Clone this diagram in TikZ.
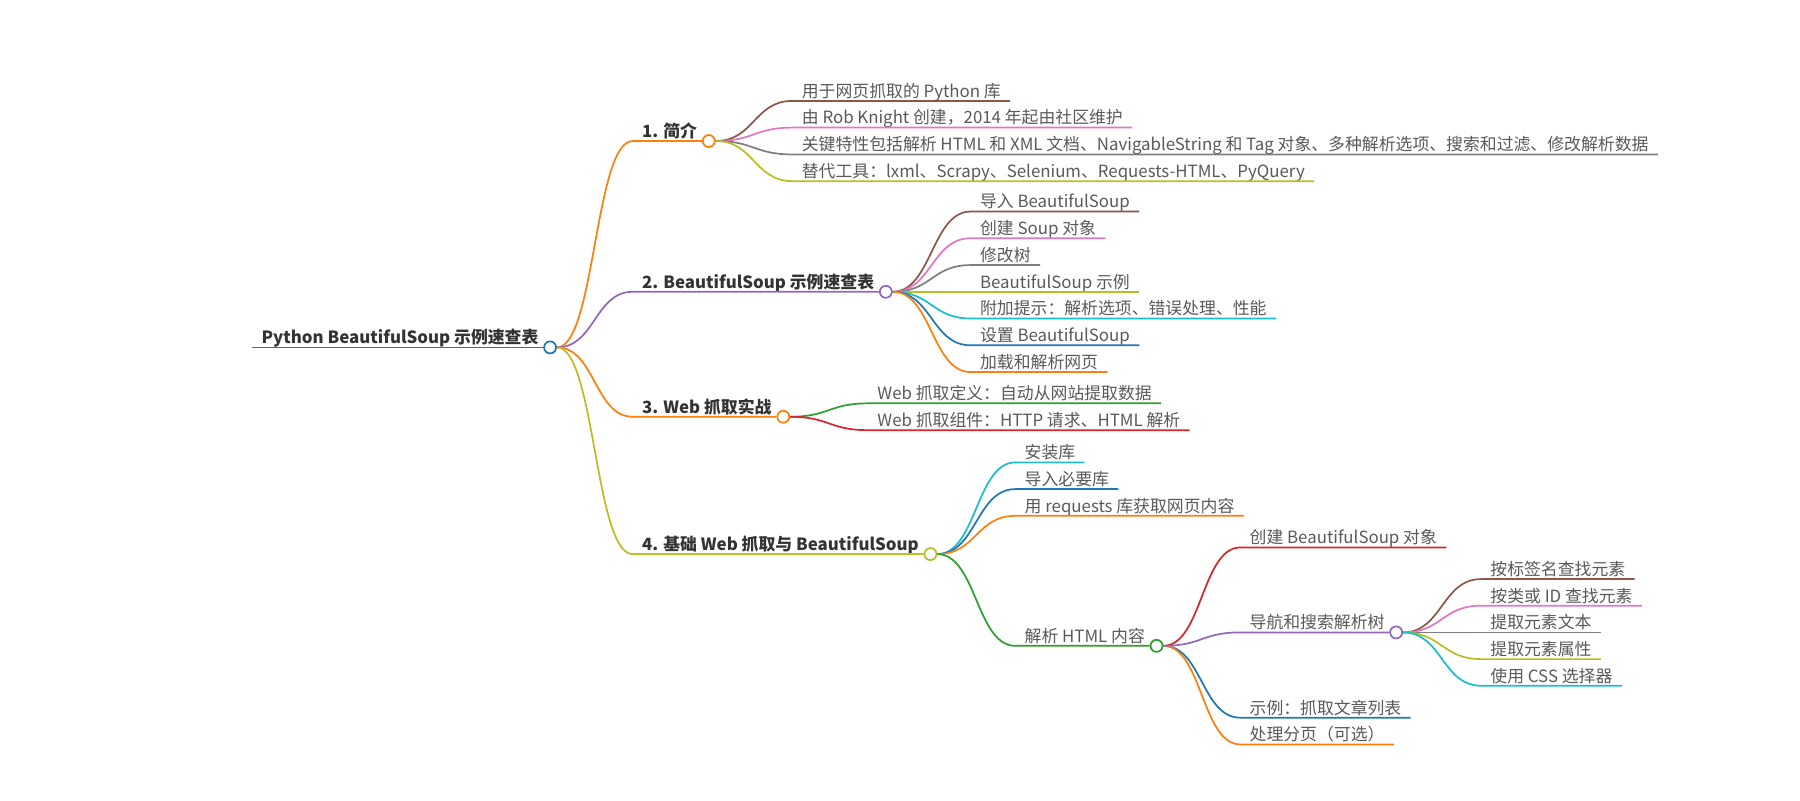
\documentclass[tikz,border=0pt]{standalone}
\usepackage{fontspec}
\setmainfont{Noto Sans CJK SC}
\usetikzlibrary{positioning}
\usetikzlibrary{calc}
\definecolor{mmblue}{HTML}{1F77B4}
\definecolor{mmorange}{HTML}{FF7F0E}
\definecolor{mmgreen}{HTML}{2CA02C}
\definecolor{mmred}{HTML}{D62728}
\definecolor{mmpurple}{HTML}{9467BD}
\definecolor{mmbrown}{HTML}{8C564B}
\definecolor{mmpink}{HTML}{E377C2}
\definecolor{mmgray}{HTML}{7F7F7F}
\definecolor{mmolive}{HTML}{BCBD22}
\definecolor{mmcyan}{HTML}{17BECF}
\definecolor{leaftext}{HTML}{595959}
\definecolor{maintext}{HTML}{333333}
\tikzset{
    topic/.style={anchor=south west, inner xsep=8pt, inner ysep=0pt, text depth=3pt,
        font=\fontsize{14.7pt}{17pt}\selectfont, text=leaftext}, % 普通节点(下划线在节点底边)
    main topic/.style={topic, font=\bfseries\fontsize{14.7pt}{17pt}\selectfont, text=maintext}, % 加粗的主题
    knot/.style={circle, draw=#1, fill=white, line width=1.5pt, minimum size=10.5pt, inner sep=0pt, anchor=west}, % 分支处的小圆圈
    branch/.style={line width=1.5pt, to path={let \p1=(\tikztostart), \p2=(\tikztotarget) in
        .. controls ({(\x1+\x2)/2},\y1) and ({(\x1+\x2)/2},\y2) .. (\tikztotarget)}} % 水平进出的曲线
}
\begin{document}
\begin{tikzpicture}[x=1pt, y=-1pt]
    \useasboundingbox (0,0) rectangle (1570,698);

    % --- 0. 根节点 ---
    \node[main topic] (root) at (220,303) {Python BeautifulSoup 示例速查表};
    \node[knot=mmblue] (kr) at ([xshift=-4pt]root.south east) {};
    \draw[mmblue, line width=1.5pt] (root.south west) -- (kr.west);

    % --- 1. 四个主分支 ---
    \foreach \dy / \txt / \col / \nm in {
        -180/{1. 简介}/mmorange/n1,
        -48.5/{2. BeautifulSoup 示例速查表}/mmpurple/n2,
        60.5/{3. Web 抓取实战}/mmorange/n3,
        180.3/{4. 基础 Web 抓取与 BeautifulSoup}/mmolive/n4} {
        \node[main topic] (\nm) at ($(kr.center)+(72,\dy)$) {\txt};
        \node[knot=\col] (k\nm) at ([xshift=-4pt]\nm.south east) {};
        \draw[branch, \col] (kr.east) to (\nm.south west) -- (k\nm.west);
    }

    % --- 2. 简介 ---
    \foreach \dy / \txt / \col / \nm in {
        -35/{用于网页抓取的 Python 库}/mmbrown/a1,
        -11.7/{由 Rob Knight 创建，2014 年起由社区维护}/mmpink/a2,
        11.7/{关键特性包括解析 HTML 和 XML 文档、NavigableString 和 Tag 对象、多种解析选项、搜索和过滤、修改解析数据}/mmgray/a3,
        35/{替代工具：lxml、Scrapy、Selenium、Requests-HTML、PyQuery}/mmolive/a4} {
        \node[topic] (\nm) at ($(kn1.center)+(73,\dy)$) {\txt};
        \draw[branch, \col] (kn1.east) to (\nm.south west) -- (\nm.south east);
    }

    % --- 3. 示例速查表 ---
    \foreach \dy / \txt / \col / \nm in {
        -70/{导入 BeautifulSoup}/mmbrown/b1,
        -46.7/{创建 Soup 对象}/mmpink/b2,
        -23.3/{修改树}/mmgray/b3,
        0/{BeautifulSoup 示例}/mmolive/b4,
        23.3/{附加提示：解析选项、错误处理、性能}/mmcyan/b5,
        46.7/{设置 BeautifulSoup}/mmblue/b6,
        70/{加载和解析网页}/mmorange/b7} {
        \node[topic] (\nm) at ($(kn2.center)+(74,\dy)$) {\txt};
        \draw[branch, \col] (kn2.east) to (\nm.south west) -- (\nm.south east);
    }

    % --- 4. Web 抓取实战 ---
    \foreach \dy / \txt / \col / \nm in {
        -11.7/{Web 抓取定义：自动从网站提取数据}/mmgreen/c1,
        11.7/{Web 抓取组件：HTTP 请求、HTML 解析}/mmred/c2} {
        \node[topic] (\nm) at ($(kn3.center)+(74,\dy)$) {\txt};
        \draw[branch, \col] (kn3.east) to (\nm.south west) -- (\nm.south east);
    }

    % --- 5. 基础 Web 抓取 ---
    \foreach \dy / \txt / \col / \nm in {
        -80/{安装库}/mmcyan/d1,
        -56.7/{导入必要库}/mmblue/d2,
        -33.4/{用 requests 库获取网页内容}/mmorange/d3} {
        \node[topic] (\nm) at ($(kn4.center)+(74,\dy)$) {\txt};
        \draw[branch, \col] (kn4.east) to (\nm.south west) -- (\nm.south east);
    }
    \node[topic] (d4) at ($(kn4.center)+(74,80)$) {解析 HTML 内容};
    \node[knot=mmgreen] (kd4) at ([xshift=-4pt]d4.south east) {};
    \draw[branch, mmgreen] (kn4.east) to (d4.south west) -- (kd4.west);

    % --- 6. 解析 HTML 内容 ---
    \foreach \dy / \txt / \col / \nm in {
        -85.8/{创建 BeautifulSoup 对象}/mmred/e1,
        62.7/{示例：抓取文章列表}/mmblue/e3,
        86/{处理分页（可选）}/mmorange/e4} {
        \node[topic] (\nm) at ($(kd4.center)+(73,\dy)$) {\txt};
        \draw[branch, \col] (kd4.east) to (\nm.south west) -- (\nm.south east);
    }
    \node[topic] (e2) at ($(kd4.center)+(73,-11.7)$) {导航和搜索解析树};
    \node[knot=mmpurple] (ke2) at ([xshift=-4pt]e2.south east) {};
    \draw[branch, mmpurple] (kd4.east) to (e2.south west) -- (ke2.west);

    % --- 7. 导航和搜索 ---
    \foreach \dy / \txt / \col / \nm in {
        -46.5/{按标签名查找元素}/mmbrown/f1,
        -23.3/{按类或 ID 查找元素}/mmpink/f2,
        0/{提取元素文本}/mmgray/f3,
        23.3/{提取元素属性}/mmolive/f4,
        46.5/{使用 CSS 选择器}/mmcyan/f5} {
        \node[topic] (\nm) at ($(ke2.center)+(74,\dy)$) {\txt};
        \draw[branch, \col] (ke2.east) to (\nm.south west) -- (\nm.south east);
    }
\end{tikzpicture}
\end{document}
